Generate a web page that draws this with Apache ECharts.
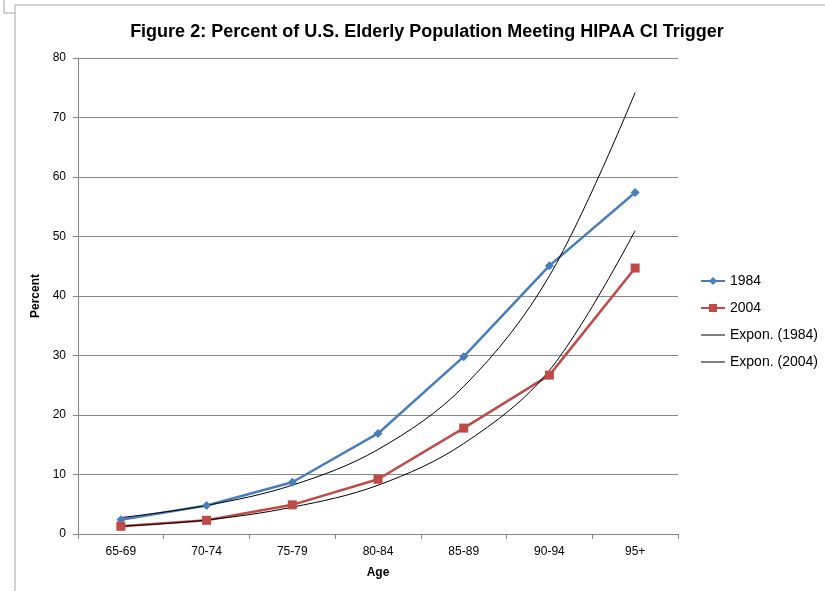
<!DOCTYPE html>
<html>
<head>
<meta charset="utf-8">
<script src="https://cdn.jsdelivr.net/npm/echarts@6/dist/echarts.min.js"></script>
<style>html,body{margin:0;padding:0;background:#fff}#c{width:825px;height:591px}</style>
</head>
<body>
<div id="c"></div>
<script>
const categories = ['65-69','70-74','75-79','80-84','85-89','90-94','95+'];
const v1984 = [2.4, 4.8, 8.7, 16.9, 29.8, 45.1, 57.4];
const v2004 = [1.3, 2.3, 4.9, 9.2, 17.8, 26.7, 44.7];
const trend1984 = [2.75, 4.8, 8.2, 14.2, 24.8, 43.4, 74.2];
const trend2004 = [1.3, 2.35, 4.5, 8.2, 15.2, 27.5, 51.0];
const yTicks = {min: 0, max: 80, interval: 10};

const font = 'Liberation Sans, Arial, sans-serif';
const chart = echarts.init(document.getElementById('c'));
chart.setOption({
  animation: false,
  backgroundColor: '#fff',
  textStyle: {fontFamily: font},
  title: {
    text: 'Figure 2: Percent of U.S. Elderly Population Meeting HIPAA CI Trigger',
    left: 422, top: 18, textAlign: 'center',
    textStyle: {fontSize: 18, fontWeight: 'bold', color: '#000', fontFamily: font}
  },
  graphic: [
    {type: 'line', shape: {x1: 15, y1: 5, x2: 825, y2: 5}, style: {stroke: '#a6a6a6', lineWidth: 1}},
    {type: 'line', shape: {x1: 15, y1: 5, x2: 15, y2: 591}, style: {stroke: '#a6a6a6', lineWidth: 1}},
    {type: 'line', shape: {x1: 4, y1: 0, x2: 4, y2: 13}, style: {stroke: '#a6a6a6', lineWidth: 1}},
    {type: 'line', shape: {x1: 4, y1: 13, x2: 15, y2: 13}, style: {stroke: '#a6a6a6', lineWidth: 1}}
  ],
  legend: {
    orient: 'vertical', left: 695, top: 269,
    itemWidth: 24, itemHeight: 10, itemGap: 13,
    textStyle: {fontSize: 14, color: '#000', fontFamily: font},
    data: [
      '1984', '2004',
      {name: 'Expon. (1984)', itemStyle: {opacity: 0}, lineStyle: {width: 1}},
      {name: 'Expon. (2004)', itemStyle: {opacity: 0}, lineStyle: {width: 1}}
    ]
  },
  grid: {left: 78, right: 147, top: 58, bottom: 57},
  xAxis: {
    type: 'category', data: categories, boundaryGap: true,
    name: 'Age', nameLocation: 'middle', nameGap: 33,
    nameTextStyle: {fontWeight: 'bold', fontSize: 12, color: '#000'},
    axisLine: {lineStyle: {color: '#868686', width: 1}},
    axisTick: {show: true, length: 5, lineStyle: {color: '#868686'}},
    axisLabel: {color: '#000', fontSize: 12, margin: 12}
  },
  yAxis: {
    type: 'value', min: yTicks.min, max: yTicks.max, interval: yTicks.interval,
    name: 'Percent', nameLocation: 'middle', nameGap: 33, nameRotate: 90,
    nameTextStyle: {fontWeight: 'bold', fontSize: 12, color: '#000'},
    axisLine: {show: true, lineStyle: {color: '#868686', width: 1}},
    axisTick: {show: true, length: 5, lineStyle: {color: '#868686'}},
    axisLabel: {color: '#000', fontSize: 12, margin: 12},
    splitLine: {lineStyle: {color: '#868686', width: 1}}
  },
  series: [
    {name: '1984', type: 'line', data: v1984, symbol: 'diamond', symbolSize: 9,
     itemStyle: {color: '#4A7EBB'}, lineStyle: {color: '#4A7EBB', width: 2.5}},
    {name: '2004', type: 'line', data: v2004, symbol: 'rect', symbolSize: 9,
     itemStyle: {color: '#BE4B48'}, lineStyle: {color: '#BE4B48', width: 2.5}},
    {name: 'Expon. (1984)', type: 'line', data: trend1984, symbol: 'none', smooth: 0.35,
     itemStyle: {color: '#000'}, lineStyle: {color: '#000', width: 1}},
    {name: 'Expon. (2004)', type: 'line', data: trend2004, symbol: 'none', smooth: 0.35,
     itemStyle: {color: '#000'}, lineStyle: {color: '#000', width: 1}}
  ]
});
</script>
</body>
</html>
